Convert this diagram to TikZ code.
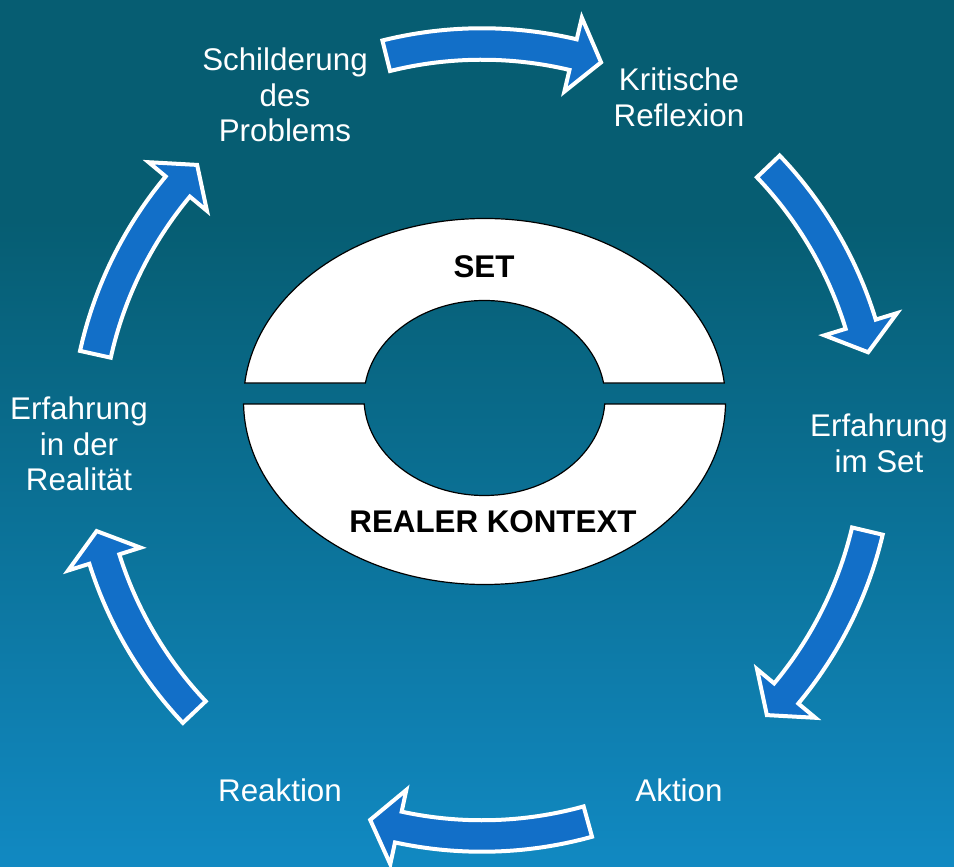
\documentclass[tikz,border=0pt]{standalone}
\usepackage{fontspec}
\setmainfont{Liberation Sans}
\usetikzlibrary{calc}
\definecolor{bgtop}{HTML}{065D72}
\definecolor{bgbot}{HTML}{1189C2}
\definecolor{arrowblue}{HTML}{126FC8}
\begin{document}
\begin{tikzpicture}[x=0.75pt,y=0.75pt,
  lbl/.style={text=white,font=\fontsize{23.5}{26.8}\selectfont,align=center,inner sep=0pt},
  blbl/.style={text=black,font=\fontsize{23.5}{28}\selectfont\bfseries,inner sep=0pt},
  ring/.style={fill=white,draw=black,line width=0.9pt},
  arr/.style={fill=arrowblue,draw=white,line width=3pt,line join=miter}]
\useasboundingbox (0,0) rectangle (954,-867);
\fill[bgtop] (0,0) rectangle (954,-220);
\shade[top color=bgtop,bottom color=bgbot] (0,-219.5) rectangle (954,-867);

% central ring, upper and lower halves
\draw[ring] (724.3,-383) arc[start angle=5.8,end angle=174.2,x radius=180.75pt,y radius=137.25pt]
  -- (365.4,-383) arc[start angle=171.15,end angle=8.85,x radius=90.375pt,y radius=73.125pt] -- cycle;
\draw[ring] (725.5,-404) arc[start angle=-0.78,end angle=-179.22,x radius=180.75pt,y radius=137.25pt]
  -- (364.2,-404) arc[start angle=183.53,end angle=356.47,x radius=90.375pt,y radius=73.125pt] -- cycle;

% cycle arrows
\coordinate (C) at (482,-440);
\foreach \t/\p in {104/72.5, 43.7/12.8, -13.3/-44, -74.5/-106.4, -136.6/-166.7, 167.5/136}{
  \pgfmathsetmacro\hb{\p+4.2}
  \draw[arr] ($(C)+(\t:308.8pt)$) arc[start angle=\t,end angle=\hb,radius=308.8pt]
    -- ($(C)+(\hb:325.5pt)$) -- ($(C)+(\p:297pt)$) -- ($(C)+(\hb:268.5pt)$)
    -- ($(C)+(\hb:285.2pt)$) arc[start angle=\hb,end angle=\t,radius=285.2pt] -- cycle;
}

\node[lbl] (schild) at (285,-95) {Schilderung\\des\\Problems};
\node[lbl] (krit) at (679,-97) {Kritische\\Reflexion};
\node[lbl] (eset) at (879,-443) {Erfahrung\\im Set};
\node[lbl] (akt) at (679,-790) {Aktion};
\node[lbl] (reak) at (280,-790) {Reaktion};
\node[lbl] (ereal) at (79,-444) {Erfahrung\\in der\\Realität};
\node[blbl] (set) at (484,-267) {SET};
\node[blbl] (rk) at (493,-522) {REALER KONTEXT};
\end{tikzpicture}
\end{document}
